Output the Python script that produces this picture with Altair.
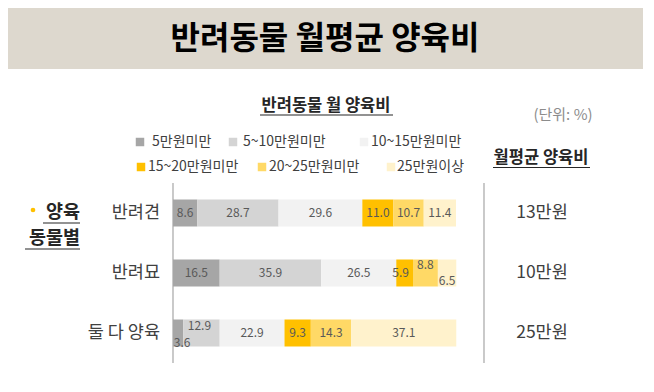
import altair as alt
import pandas as pd

# ---------------- data ----------------
ROWS = ["반려견", "반려묘", "둘 다 양육"]
BINS = ["5만원미만", "5~10만원미만", "10~15만원미만", "15~20만원미만", "20~25만원미만", "25만원이상"]
DOG = [8.6, 28.7, 29.6, 11.0, 10.7, 11.4]
CAT = [16.5, 35.9, 26.5, 5.9, 8.8, 6.5]
BOTH = [3.6, 12.9, 22.9, 9.3, 14.3, 37.1]
AVG_COST = ["13만원", "10만원", "25만원"]
TITLE = "반려동물 월평균 양육비"
LEGEND_TITLE = "반려동물 월 양육비"
UNIT = "(단위: %)"
RIGHT_TITLE = "월평균 양육비"
GROUP_LABEL = ["양육", "동물별"]

# ---------------- styles / layout ----------------
COLORS = ["#A6A6A6", "#D4D4D4", "#F2F2F2", "#FFC000", "#FFD966", "#FFF2CC"]
FONT = "Noto Sans CJK KR"
# label nudges (dx, dy) for labels that sit off-centre in the original
NUDGE = {
    ("반려묘", "15~20만원미만"): (-4, 0),
    ("반려묘", "20~25만원미만"): (0, -8),
    ("반려묘", "25만원이상"): (0, 8),
    ("둘 다 양육", "5만원미만"): (4, 10),
    ("둘 다 양육", "5~10만원미만"): (-2, -7),
}
LEGEND_SQ = [(132, 134), (225, 134), (356, 134), (133, 159), (254, 159), (383, 159)]
LEGEND_TX = [(144, 134), (235, 134), (363, 134), (140, 159), (261, 159), (389, 159)]

rows = []
for r, vals in zip(ROWS, [DOG, CAT, BOTH]):
    c = 0.0
    for b, v in zip(BINS, vals):
        dx, dy = NUDGE.get((r, b), (0, 0))
        rows.append({"row": r, "bin": b, "value": v, "start": c, "end": c + v,
                     "mid": c + v / 2, "label": f"{v:.1f}", "nudge": f"{dx},{dy}"})
        c += v
df = pd.DataFrame(rows)
avg_df = pd.DataFrame({"row": ROWS, "avg": AVG_COST})
one = pd.DataFrame({"a": [0]})

xscale = alt.Scale(domain=[0, 100], range=[165, 448], nice=False, zero=False)
yscale = alt.Scale(domain=ROWS, range=[191.5, 338.5], paddingInner=0.55, paddingOuter=0)

layers = []

# banner
layers.append(alt.Chart(one).mark_rect(color="#DDD8CE").encode(
    x=alt.value(0), x2=alt.value(635), y=alt.value(0), y2=alt.value(61)))
layers.append(alt.Chart(one).mark_text(text=TITLE, font=FONT, fontSize=32, fontWeight="bold",
                                       color="#000000", align="center", baseline="middle").encode(
    x=alt.value(317), y=alt.value(31)))

# bars
layers.append(alt.Chart(df).mark_bar().encode(
    x=alt.X("start:Q", scale=xscale, axis=None),
    x2="end:Q",
    y=alt.Y("row:N", scale=yscale, axis=None),
    color=alt.Color("bin:N", scale=alt.Scale(domain=BINS, range=COLORS), legend=None),
))

# bar value labels
for nud in sorted(df["nudge"].unique()):
    dx, dy = [int(s) for s in nud.split(",")]
    layers.append(alt.Chart(df).transform_filter(alt.datum.nudge == nud).mark_text(
        font=FONT, fontSize=12, color="#595959", align="center", baseline="middle", dx=dx, dy=dy
    ).encode(
        x=alt.X("mid:Q", scale=xscale, axis=None),
        y=alt.Y("row:N", scale=yscale, axis=None),
        text="label:N",
    ))

# category labels
layers.append(alt.Chart(avg_df).mark_text(font=FONT, fontSize=17.5, color="#404040",
                                          align="right", baseline="middle").encode(
    x=alt.value(152), y=alt.Y("row:N", scale=yscale, axis=None), text="row:N"))
# average cost
layers.append(alt.Chart(avg_df).mark_text(font=FONT, fontSize=17.5, color="#404040",
                                          align="center", baseline="middle").encode(
    x=alt.value(534), y=alt.Y("row:N", scale=yscale, axis=None), text="avg:N"))

# vertical lines
for lx in [165, 476]:
    layers.append(alt.Chart(one).mark_rule(color="#A6A6A6", strokeWidth=1.2).encode(
        x=alt.value(lx), y=alt.value(175), y2=alt.value(355)))

# headers
layers.append(alt.Chart(one).mark_text(text=LEGEND_TITLE, font=FONT, fontSize=16.5, fontWeight="bold",
                                       color="#262626", align="center", baseline="middle").encode(
    x=alt.value(318), y=alt.value(98)))
layers.append(alt.Chart(one).mark_rule(color="#262626", strokeWidth=1.2).encode(
    x=alt.value(252), x2=alt.value(385), y=alt.value(107)))
layers.append(alt.Chart(one).mark_text(text=UNIT, font=FONT, fontSize=15,
                                       color="#8C8C8C", align="center", baseline="middle").encode(
    x=alt.value(555), y=alt.value(107)))
layers.append(alt.Chart(one).mark_text(text=RIGHT_TITLE, font=FONT, fontSize=16.5, fontWeight="bold",
                                       color="#262626", align="center", baseline="middle").encode(
    x=alt.value(533), y=alt.value(149.5)))
layers.append(alt.Chart(one).mark_rule(color="#262626", strokeWidth=1.2).encode(
    x=alt.value(485), x2=alt.value(582), y=alt.value(159.5)))

# group label
layers.append(alt.Chart(one).mark_circle(color="#FFC000", size=22, opacity=1).encode(
    x=alt.value(25), y=alt.value(202)))
layers.append(alt.Chart(one).mark_text(text=GROUP_LABEL[0], font=FONT, fontSize=18.5, fontWeight="bold",
                                       color="#262626", align="right", baseline="middle").encode(
    x=alt.value(72), y=alt.value(204)))
layers.append(alt.Chart(one).mark_rule(color="#262626", strokeWidth=1.2).encode(
    x=alt.value(35), x2=alt.value(72), y=alt.value(215)))
layers.append(alt.Chart(one).mark_text(text=GROUP_LABEL[1], font=FONT, fontSize=18.5, fontWeight="bold",
                                       color="#262626", align="right", baseline="middle").encode(
    x=alt.value(72), y=alt.value(230)))
layers.append(alt.Chart(one).mark_rule(color="#262626", strokeWidth=1.2).encode(
    x=alt.value(17), x2=alt.value(72), y=alt.value(241)))

# legend
for i, b in enumerate(BINS):
    sx, sy = LEGEND_SQ[i]
    tx, ty = LEGEND_TX[i]
    layers.append(alt.Chart(one).mark_square(color=COLORS[i], size=72, opacity=1).encode(
        x=alt.value(sx), y=alt.value(sy)))
    layers.append(alt.Chart(one).mark_text(text=b, font=FONT, fontSize=14, color="#404040",
                                           align="left", baseline="middle").encode(
        x=alt.value(tx), y=alt.value(ty)))

chart = alt.layer(*layers).properties(
    width=638, height=376,
    autosize=alt.AutoSizeParams(type="fit", contains="padding"),
    padding=0,
).configure_view(stroke=None)

chart.save("out.html", embed_options={"renderer": "svg", "actions": False})
